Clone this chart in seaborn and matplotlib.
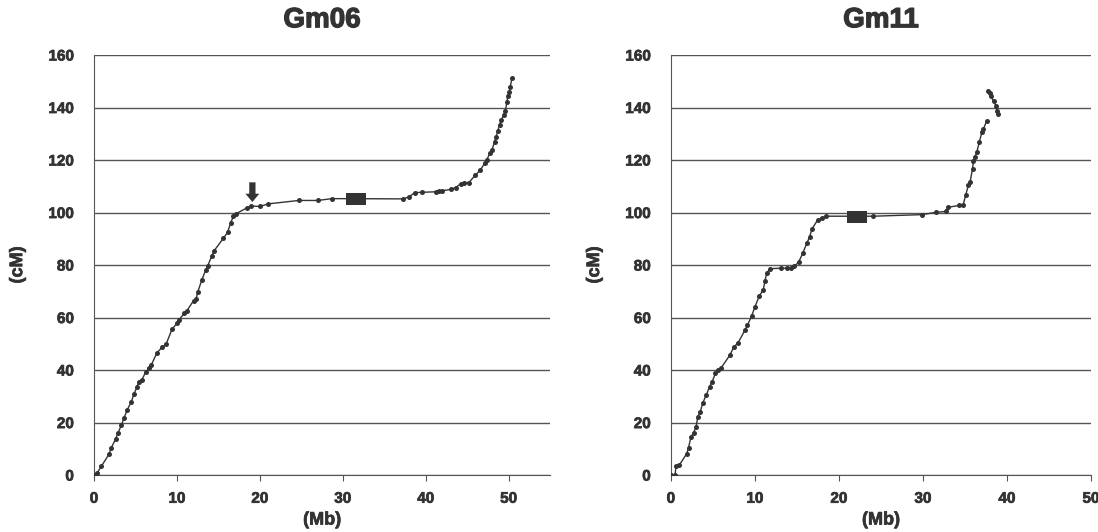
import numpy as np
import pandas as pd
import matplotlib
matplotlib.use("Agg")
import matplotlib.pyplot as plt
import matplotlib.patheffects as pe
import seaborn as sns

# Gm06: physical position (Mb) vs genetic position (cM)
gm06_mb = [0.0, 0.4, 0.9, 1.8, 2.1, 2.6, 2.9, 3.3, 3.6, 4.0, 4.5, 4.8, 5.2, 5.4, 5.8,
           6.25, 6.65, 6.9, 7.6, 8.2, 8.7, 9.4, 10.0, 10.2, 10.9, 11.2, 12.0, 12.3, 12.5,
           13.0, 13.5, 13.7, 14.2, 14.5, 15.6, 16.1, 16.5, 16.8, 17.1, 18.4, 18.9, 20.0,
           21.0, 24.7, 27.0, 28.7, 37.3, 38.0, 38.7, 39.5, 41.2, 41.6, 42.0, 43.0, 43.6,
           44.2, 44.6, 45.2, 46.0, 46.6, 47.1, 47.4, 47.7, 48.0, 48.3, 48.5, 48.7, 48.9,
           49.1, 49.4, 49.6, 49.8, 49.9, 50.1, 50.2, 50.4]
gm06_cm = [0.0, 0.9, 3.4, 7.9, 10.5, 13.7, 16.1, 19.0, 21.6, 24.8, 27.9, 30.7, 33.7, 35.6, 36.4,
           39.4, 40.6, 41.9, 46.6, 48.6, 49.9, 55.5, 57.8, 59.0, 61.6, 62.6, 66.4, 66.9, 69.6,
           74.3, 78.3, 79.6, 83.4, 85.5, 90.2, 92.4, 96.2, 98.5, 99.5, 101.7, 102.5, 102.3,
           103.3, 104.6, 104.6, 105.3, 105.2, 106.0, 107.6, 107.7, 107.9, 108.3, 108.3, 108.8, 109.5,
           110.9, 111.4, 111.4, 114.3, 116.2, 118.7, 120.2, 122.5, 123.8, 127.0, 128.9, 131.2, 133.3,
           135.2, 137.1, 138.7, 142.2, 144.4, 146.0, 147.9, 151.3]
gm06_centromere = (31.6, 105.3)
gm06_arrow = (19.1, 104.0)

# Gm11: main run plus a short separate run at the distal end
gm11_mb = [0.0, 0.5, 0.6, 1.0, 1.9, 2.1, 2.4, 2.7, 3.0, 3.2, 3.5, 3.8, 4.2, 4.6, 4.9,
           5.3, 5.6, 6.0, 7.0, 7.5, 8.0, 8.8, 9.1, 9.6, 10.0, 10.5, 11.0, 11.2, 11.4,
           11.8, 13.1, 13.8, 14.3, 14.7, 15.2, 15.7, 16.2, 16.5, 16.8, 17.5, 18.0, 18.5,
           24.1, 29.9, 31.6, 32.7, 33.0, 34.3, 34.8, 35.1, 35.4, 35.6, 35.9, 36.0, 36.2,
           36.4, 36.7, 37.0, 37.2, 37.6]
gm11_cm = [0.0, 0.0, 3.4, 3.8, 8.2, 10.5, 14.6, 16.1, 18.4, 22.2, 24.1, 27.5, 30.4, 33.6, 35.5,
           38.7, 39.9, 40.9, 45.6, 48.8, 50.4, 55.1, 57.0, 60.5, 64.0, 68.1, 70.6, 73.9, 76.9,
           78.6, 78.8, 78.8, 78.8, 79.5, 81.1, 84.5, 88.5, 90.6, 93.8, 97.3, 98.0, 98.6,
           98.6, 99.2, 100.1, 100.4, 102.0, 102.7, 103.0, 106.8, 110.3, 111.5, 116.6, 119.5, 121.3,
           122.9, 126.7, 130.5, 131.8, 135.0]
gm11_tail_mb = [37.8, 38.0, 38.1, 38.4, 38.7, 38.8, 38.9]
gm11_tail_cm = [146.4, 145.5, 144.5, 142.3, 140.7, 138.8, 137.5]
gm11_centromere = (22.1, 98.2)

yticks = list(range(0, 161, 20))
xticks = [0, 10, 20, 30, 40, 50]
dark = "#333333"
rect = [(-1.6, -1), (1.6, -1), (1.6, 1), (-1.6, 1), (-1.6, -1)]

sns.set_style("white")
plt.rcParams["font.family"] = ["Liberation Sans", "DejaVu Sans"]
plt.rcParams["font.weight"] = "bold"

# slightly heavier strokes, the original uses an Arial Black look
heavy = [pe.withStroke(linewidth=0.5, foreground=dark)]

fig = plt.figure(figsize=(10.98, 5.32), dpi=100)
ax1 = fig.add_axes([0.0856, 0.107, 0.4154, 0.7896])
ax2 = fig.add_axes([0.611, 0.107, 0.3826, 0.7896])


def draw_map(ax, segments, centromere, title, xmax):
    for mb, cm in segments:
        df = pd.DataFrame({"Mb": mb, "cM": cm})
        sns.lineplot(data=df, x="Mb", y="cM", sort=False, estimator=None, ax=ax,
                     color=dark, lw=1.0, marker="o", markersize=3.6,
                     markeredgewidth=0, zorder=3)
    ax.scatter([centromere[0]], [centromere[1]], marker=rect, s=190, color=dark,
               linewidths=0, zorder=4)
    ax.set_xlim(0, xmax)
    ax.set_ylim(0, 160)
    ax.set_yticks(yticks)
    ax.set_xticks(xticks)
    ax.yaxis.grid(True, color="#555555", lw=1.0)
    ax.xaxis.grid(False)
    for s in ["top", "right"]:
        ax.spines[s].set_visible(False)
    ax.spines["left"].set_color("#555555")
    ax.spines["bottom"].set_color("#555555")
    ax.tick_params(axis="x", bottom=True, length=4, color="#555555", labelsize=11,
                   pad=8, labelcolor=dark)
    ax.tick_params(axis="y", left=False, labelsize=11, pad=11, labelcolor=dark)
    for lab in ax.get_xticklabels() + ax.get_yticklabels():
        lab.set_fontweight("bold")
        lab.set_path_effects(heavy)
    t = ax.set_title(title, fontsize=20, fontweight="bold", pad=20, color=dark)
    t.set_path_effects([pe.withStroke(linewidth=0.9, foreground=dark)])
    xl = ax.set_xlabel("(Mb)", fontsize=13, fontweight="bold", color=dark)
    ax.xaxis.set_label_coords(0.5, -0.107)
    xl.set_verticalalignment("center")
    yl = ax.set_ylabel("(cM)", fontsize=13, fontweight="bold", labelpad=16, color=dark)
    xl.set_path_effects(heavy)
    yl.set_path_effects(heavy)


draw_map(ax1, [(gm06_mb, gm06_cm)], gm06_centromere, "Gm06", 55)
draw_map(ax2, [(gm11_mb, gm11_cm), (gm11_tail_mb, gm11_tail_cm)], gm11_centromere,
         "Gm11", 50)

ax1.annotate("", xy=gm06_arrow, xytext=(gm06_arrow[0], gm06_arrow[1] + 7.5),
             arrowprops=dict(arrowstyle="simple,head_width=1.0,head_length=0.6,tail_width=0.45",
                             color=dark, lw=0, shrinkA=0, shrinkB=0), zorder=5)

fig.savefig("out.png", dpi=100)
